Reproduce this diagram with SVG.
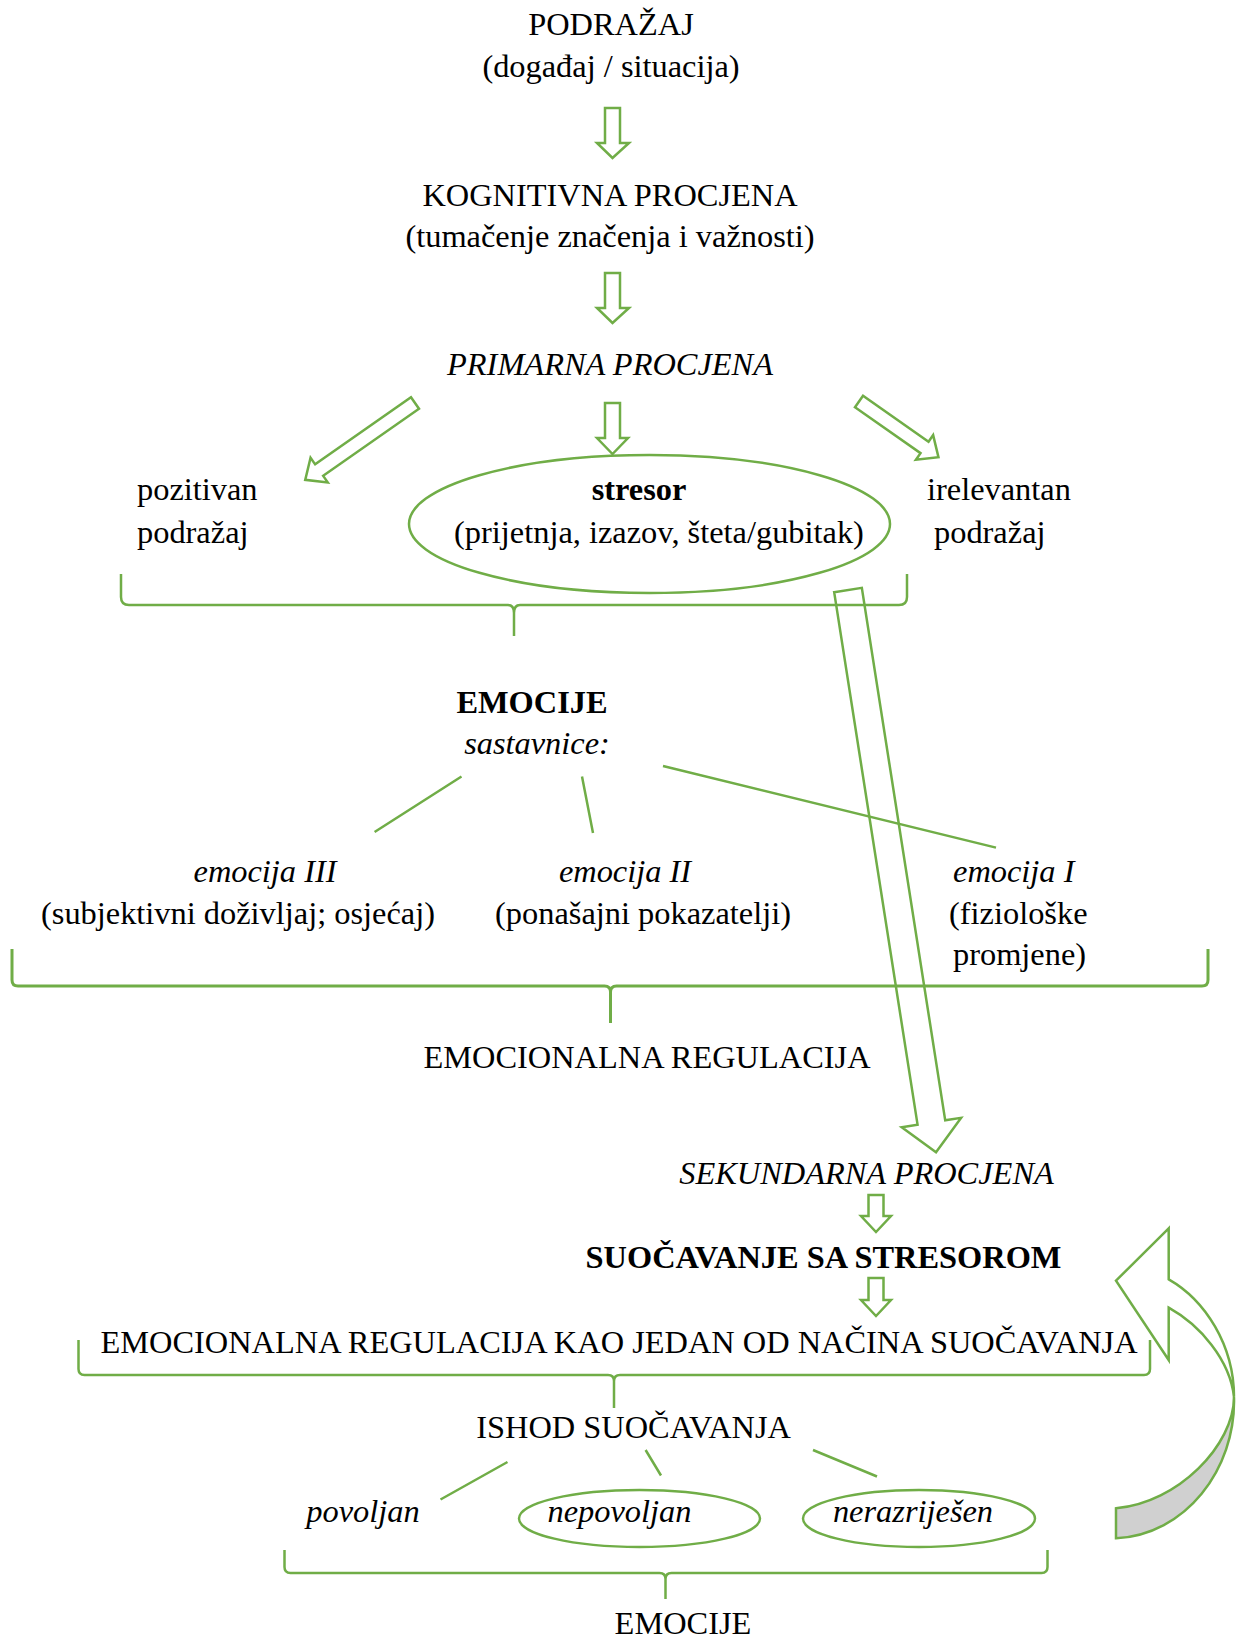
<svg xmlns="http://www.w3.org/2000/svg" width="1240" height="1641" viewBox="0 0 1240 1641">
<defs>
<style>
text{font-family:"Liberation Serif","Times New Roman",serif;font-size:32.4px;fill:#000}
.c{text-anchor:middle}
.i{font-style:italic}
.b{font-weight:bold}
.g{fill:none;stroke:#70AD47;stroke-width:2.5}
.ga{fill:#fff;stroke:#70AD47;stroke-width:2.5;stroke-linejoin:miter}
</style>
</defs>
<rect width="1240" height="1641" fill="#fff"/>

<g id="connectors">
<path class="ga" d="M605,108 H620 V143 H629 L612.5,158 L597,143 H605 Z"/>
<path class="ga" d="M605,273 H620 V308 H629 L612.5,323 L597,308 H605 Z"/>
<path class="ga" d="M605,403 H620 V438 H628 L612.5,454 L597,438 H605 Z"/>
<path class="ga" transform="translate(415,403) rotate(55)" d="M-7,0 H7 V117 H15 L0,134 L-15,117 H-7 Z"/>
<path class="ga" transform="translate(859,401.5) rotate(-55)" d="M-7,0 H7 V80 H15 L0,97 L-15,80 H-7 Z"/>
<path class="g" d="M121,574 V597 Q121,605 129,605 H508 Q514,605 514,613 V636 M514,613 Q514,605 520,605 H899 Q907,605 907,597 V574"/>
<path class="g" d="M461.5,776.5 L374.6,832 M582,776.5 L593,833 M663,766 L996,847.6"/>
<path class="g" style="stroke-width:3" d="M12,949 V980 Q12,986 18,986 H604.5 Q610.5,986 610.5,992 V1023 M610.5,992 Q610.5,986 616.5,986 H1202 Q1208,986 1208,980 V949"/>
<path class="ga" transform="translate(848,590) rotate(-8.9)" d="M-14,0 H14 V539 H30 L0,569 L-30,539 H-14 Z" style="fill:none"/>
<path class="ga" d="M868.5,1195 H883.5 V1216 H891 L876,1232 L861,1216 H868.5 Z"/>
<path class="ga" d="M868.5,1278 H883.5 V1300 H891 L876,1316 L861,1300 H868.5 Z"/>
<path class="g" d="M78.5,1340 V1369 Q78.5,1375 84.5,1375 H608 Q614,1375 614,1381 V1408 M614,1381 Q614,1375 620,1375 H1144 Q1150,1375 1150,1369 V1340"/>
<path class="g" d="M507.5,1462 L440.5,1499.5 M645.6,1450 L661,1475.5 M813,1450 L877,1476.5"/>
<path class="g" d="M284.5,1550 V1567 Q284.5,1573 290.5,1573 H659.5 Q665.5,1573 665.5,1579 V1599 M665.5,1579 Q665.5,1573 671.5,1573 H1041.5 Q1047.5,1573 1047.5,1567 V1550"/>
<path id="curved-back" d="M1234,1397 C1234,1445 1178,1503 1116,1508.3 V1538.3 C1185,1535 1236,1470 1234,1397 Z" fill="#D0D0D0" stroke="#70AD47" stroke-width="2.5"/>
<path id="curved-front" class="ga" d="M1168.7,1228.3 L1116,1280.7 L1168.7,1360 V1307.7 C1200,1325 1230,1360 1234,1397 C1234,1345 1205,1300 1168.7,1279.3 Z"/>
</g>

<g id="podrazaj"><text class="c" x="611" y="35">PODRAŽAJ</text><text class="c" x="611" y="77">(događaj / situacija)</text></g>
<g id="kognitivna"><text class="c" x="610" y="206">KOGNITIVNA PROCJENA</text><text class="c" x="610" y="247">(tumačenje značenja i važnosti)</text></g>
<g id="primarna"><text class="c i" x="610" y="375">PRIMARNA PROCJENA</text></g>
<g id="pozitivan"><text x="137" y="500">pozitivan</text><text x="137" y="543">podražaj</text></g>
<g id="stresor"><ellipse class="g" cx="649.5" cy="524" rx="240.5" ry="69"/><text class="c b" x="639" y="500">stresor</text><text class="c" x="659" y="543">(prijetnja, izazov, šteta/gubitak)</text></g>
<g id="irelevantan"><text x="927" y="500">irelevantan</text><text x="934" y="543">podražaj</text></g>
<g id="emocije"><text class="c b" x="532" y="713">EMOCIJE</text><text class="c i" x="537" y="754">sastavnice:</text></g>
<g id="emocija3"><text class="c i" x="265" y="882">emocija III</text><text class="c" x="238" y="924">(subjektivni doživljaj; osjećaj)</text></g>
<g id="emocija2"><text class="c i" x="625" y="882">emocija II</text><text class="c" x="643" y="924">(ponašajni pokazatelji)</text></g>
<g id="emocija1"><text class="i" x="953" y="882">emocija I</text><text x="949" y="924">(fiziološke</text><text x="953" y="965">promjene)</text></g>
<g id="regulacija"><text class="c" x="647" y="1068">EMOCIONALNA REGULACIJA</text></g>
<g id="sekundarna"><text class="c i" x="866.5" y="1184">SEKUNDARNA PROCJENA</text></g>
<g id="suocavanje"><text class="c b" x="823.5" y="1268">SUOČAVANJE SA STRESOROM</text></g>
<g id="regulacija-nacin"><text class="c" x="619" y="1353">EMOCIONALNA REGULACIJA KAO JEDAN OD NAČINA SUOČAVANJA</text></g>
<g id="ishod"><text class="c" x="633.6" y="1438">ISHOD SUOČAVANJA</text></g>
<g id="povoljan"><text class="c i" x="363" y="1522">povoljan</text></g>
<g id="nepovoljan"><ellipse class="g" cx="639.5" cy="1518.5" rx="120.5" ry="28.5"/><text class="c i" x="619.5" y="1522">nepovoljan</text></g>
<g id="nerazrijesen"><ellipse class="g" cx="919" cy="1518.5" rx="116" ry="28.5"/><text class="c i" x="913" y="1522">nerazriješen</text></g>
<g id="emocije-ishod"><text class="c" x="683" y="1634">EMOCIJE</text></g>
</svg>
